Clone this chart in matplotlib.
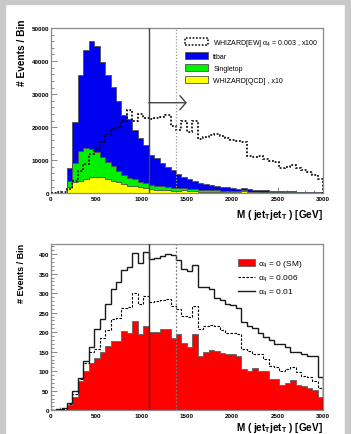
import numpy as np
import matplotlib
matplotlib.use("Agg")
import matplotlib.pyplot as plt
from matplotlib.patches import Patch, Rectangle
from matplotlib.lines import Line2D
from matplotlib.ticker import MultipleLocator

plt.rcParams['font.family'] = ['Liberation Sans', 'DejaVu Sans']
plt.rcParams['mathtext.fontset'] = 'custom'
plt.rcParams['mathtext.rm'] = 'Liberation Sans'
plt.rcParams['mathtext.it'] = 'Liberation Sans'
plt.rcParams['mathtext.bf'] = 'Liberation Sans:bold'

# 50 bins of 60 GeV, 0..3000
edges = np.linspace(0, 3000, 51)

# --- top panel (stacked totals as seen in the picture) ---
qcd_x10 = [0, 0, 0, 1800, 3300, 3850, 4350, 4850, 5050, 4850,
           4350, 3850, 3350, 2850, 2350, 2100, 1800, 1500, 1250, 1100,
           1000, 900, 800, 750, 900, 600, 550, 500, 450, 500,
           400, 380, 350, 330, 300, 700, 300, 260, 240, 220,
           200, 190, 180, 170, 160, 150, 140, 130, 120, 110]
singletop_top = [0, 0, 0, 3840, 9090, 12930, 13640, 13430, 12420, 11110,
                 9390, 8380, 6870, 5660, 4650, 4340, 3540, 3030, 2530, 2320,
                 2100, 1900, 1750, 1600, 1600, 1300, 1200, 1100, 1000, 950,
                 850, 800, 700, 650, 600, 900, 500, 450, 420, 400,
                 380, 350, 320, 300, 280, 260, 240, 220, 200, 180]
ttbar_top = [0, 0, 0, 7580, 21700, 35860, 43430, 45960, 44440, 39700,
             35860, 32120, 27780, 23740, 22530, 19000, 16700, 14500, 11600, 10600,
             9100, 8000, 7100, 5860, 5040, 4300, 3700, 3200, 2900, 2500,
             2200, 2000, 1800, 1600, 1450, 1600, 1200, 1100, 1000, 900,
             800, 750, 700, 600, 550, 500, 450, 420, 380, 350]
whizard_ew_x100 = [200, 300, 500, 1300, 3820, 6850, 8880, 11900, 13400, 15450,
                   17970, 19480, 20000, 22000, 25200, 22000, 24000, 22800, 22600, 22800,
                   23200, 23600, 20500, 19000, 21800, 18500, 22000, 16500, 17000, 17500,
                   17800, 17200, 16800, 16200, 15800, 15600, 11400, 11000, 11300, 10500,
                   9900, 9400, 7600, 8000, 8600, 7800, 6900, 6500, 5500, 4300]

# --- bottom panel ---
sm = [0, 0, 0, 14, 33, 76, 100, 122, 135, 148,
      165, 178, 178, 202, 197, 229, 195, 215, 200, 201,
      209, 207, 184, 195, 172, 161, 195, 139, 150, 155,
      151, 147, 145, 143, 139, 105, 100, 109, 100, 100,
      81, 80, 66, 71, 77, 66, 62, 58, 53, 35]
a4_006 = [1, 2, 3, 15, 43, 80, 120, 150, 158, 186,
          205, 235, 237, 262, 265, 301, 271, 293, 277, 279,
          282, 285, 267, 259, 242, 238, 267, 209, 215, 218,
          215, 206, 199, 199, 195, 157, 152, 144, 144, 131,
          114, 110, 101, 107, 110, 99, 88, 84, 76, 58]
a4_01 = [2, 3, 5, 18, 50, 82, 127, 163, 208, 233,
         271, 311, 328, 359, 368, 403, 378, 405, 388, 390,
         396, 399, 398, 385, 362, 356, 372, 316, 315, 310,
         288, 283, 272, 270, 262, 226, 215, 210, 197, 187,
         180, 169, 169, 162, 148, 148, 143, 139, 139, 86]

cut_lo = 1080
cut_hi = 1380
arrow_y = 27400
arrow_end = 1500

W, H = 351, 435
fig = plt.figure(figsize=(W / 100, H / 100), dpi=100)
fig.patch.set_facecolor('white')

# grey page border
gray = '#c9c9c9'
for (x0, y0, w, h) in [(0, 0, 5, H), (0, H - 5, W, 5), (W - 6, 0, 6, H)]:
    fig.patches.append(Rectangle((x0 / W, y0 / H), w / W, h / H,
                                 transform=fig.transFigure, color=gray, zorder=-10))


def style_axes(ax, ymax, ymajor, yminor):
    ax.set_xlim(0, 3000)
    ax.set_ylim(0, ymax)
    ax.xaxis.set_major_locator(MultipleLocator(500))
    ax.xaxis.set_minor_locator(MultipleLocator(100))
    ax.yaxis.set_major_locator(MultipleLocator(ymajor))
    ax.yaxis.set_minor_locator(MultipleLocator(yminor))
    ax.tick_params(which='both', direction='in', colors='#777777', width=0.6,
                   top=False, right=False)
    ax.tick_params(which='major', length=4.0)
    ax.tick_params(which='minor', length=2.0)
    ax.tick_params(axis='y', pad=1.2, labelcolor='black')
    ax.tick_params(axis='x', pad=2.2, labelcolor='black')
    for lab in ax.get_xticklabels() + ax.get_yticklabels():
        lab.set_fontsize(4.5)
        lab.set_fontweight('bold')
    for sp in ax.spines.values():
        sp.set_color('#8a8a8a')
        sp.set_linewidth(0.9)
    ax.set_axisbelow(True)


# ---------------- top panel ----------------
ax1 = fig.add_axes([50.7 / W, 1 - 194.3 / H, 272.3 / W, 165.3 / H])
edge_c = '#505050'
ax1.stairs(ttbar_top, edges, fill=True, facecolor='#0000f0', edgecolor=edge_c, lw=0.6, zorder=1)
ax1.stairs(singletop_top, edges, fill=True, facecolor='#00f000', edgecolor=edge_c, lw=0.6, zorder=1.1)
ax1.stairs(qcd_x10, edges, fill=True, facecolor='#ffff00', edgecolor=edge_c, lw=0.6, zorder=1.2)
ax1.stairs(whizard_ew_x100, edges, color='black', lw=1.2, linestyle=(0, (1.1, 1.1)), zorder=3)
ax1.axvline(cut_lo, color='#454545', lw=1.0, zorder=4)
ax1.axvline(cut_hi, color='#999999', lw=0.9, linestyle=(0, (1, 1.5)), zorder=4)
ax1.annotate('', xy=(arrow_end, arrow_y), xytext=(cut_lo, arrow_y),
             arrowprops=dict(arrowstyle='->,head_length=0.4,head_width=0.47',
                             color='#454545', lw=1.0, mutation_scale=10.8,
                             shrinkA=0, shrinkB=0), zorder=4)
style_axes(ax1, 50000, 10000, 2000)

h1 = [Patch(facecolor='white', edgecolor='black', lw=1.1, linestyle=(0, (1.1, 1.1))),
      Patch(facecolor='#0000f0', edgecolor=edge_c, lw=0.6),
      Patch(facecolor='#00f000', edgecolor=edge_c, lw=0.6),
      Patch(facecolor='#ffff00', edgecolor=edge_c, lw=0.6)]
l1 = ['WHIZARD[EW] α$_4$ = 0.003 , x100', 'ttbar', 'Singletop', 'WHIZARD[QCD] , x10']
ax1.legend(h1, l1, loc='upper left', bbox_to_anchor=(0.493, 0.947), frameon=False,
           fontsize=5.0, borderpad=0, borderaxespad=0, handlelength=3.3,
           handleheight=1.15, handletextpad=0.8, labelspacing=0.62)

# ---------------- bottom panel ----------------
ax2 = fig.add_axes([50.7 / W, 1 - 411.3 / H, 272.3 / W, 166.0 / H])
ax2.stairs(sm, edges, fill=True, facecolor='#ff0000', edgecolor='#606060', lw=0.6, zorder=1)
ax2.stairs(a4_006, edges, color='black', lw=0.8, linestyle=(0, (2.2, 1.4)), zorder=3)
ax2.stairs(a4_01, edges, color='#1a1a1a', lw=1.0, zorder=3)
ax2.axvline(cut_lo, color='#303030', lw=1.0, zorder=4)
ax2.axvline(cut_hi, color='#777777', lw=0.9, linestyle=(0, (1.5, 1.5)), zorder=4)
style_axes(ax2, 425, 50, 10)

h2 = [Patch(facecolor='#ff0000', edgecolor='#606060', lw=0.6),
      Line2D([], [], color='black', lw=0.8, linestyle=(0, (2.2, 1.4))),
      Line2D([], [], color='#1a1a1a', lw=1.0)]
l2 = ['α$_4$ = 0 (SM)', 'α$_4$ = 0.006', 'α$_4$ = 0.01']
ax2.legend(h2, l2, loc='upper left', bbox_to_anchor=(0.687, 0.916), frameon=False,
           fontsize=6.0, borderpad=0, borderaxespad=0, handlelength=2.1,
           handleheight=0.95, handletextpad=0.35, labelspacing=0.45)

# axis titles
for ytop, fs in ((20, 7.3), (243.7, 6.5)):
    fig.text(22 / W, 1 - ytop / H, '# Events / Bin', rotation=90, ha='center', va='top',
             fontsize=fs, fontweight='bold')
for yc in (215, 428):
    fig.text(323 / W, 1 - yc / H, r'M ( jet$_\mathbf{T}$jet$_\mathbf{T}$ ) [GeV]',
             ha='right', va='center', fontsize=7.2, fontweight='bold')

fig.savefig('out.png', dpi=100, facecolor=fig.get_facecolor())
